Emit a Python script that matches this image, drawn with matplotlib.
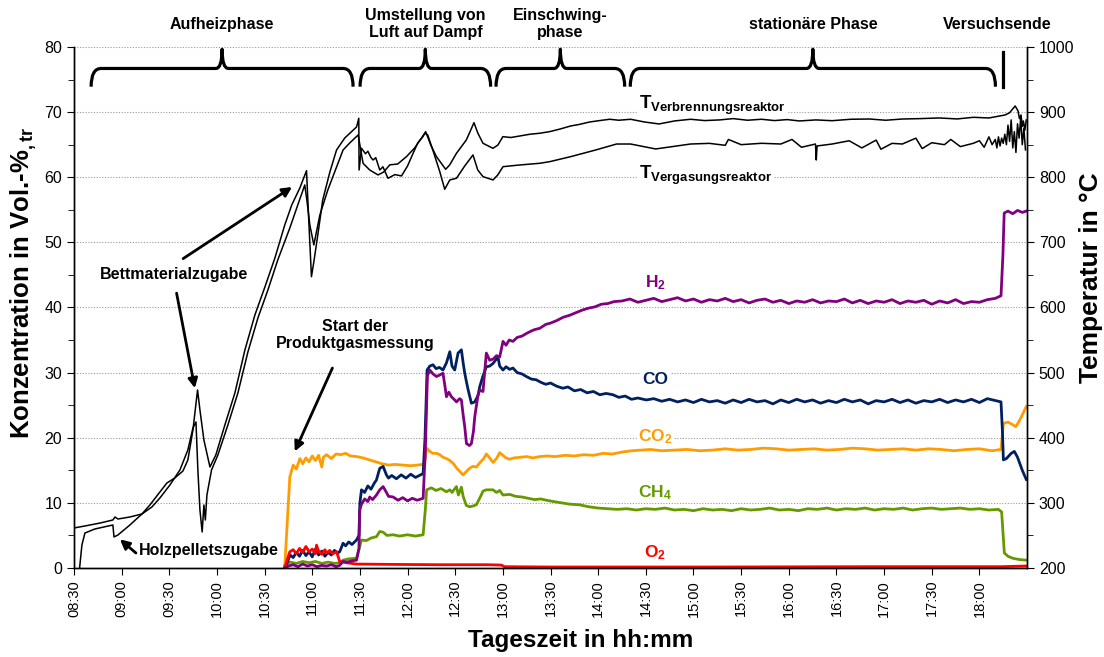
import matplotlib
matplotlib.use("Agg")
import matplotlib.pyplot as plt
from matplotlib.path import Path
from matplotlib.patches import PathPatch
from matplotlib.ticker import MultipleLocator, FuncFormatter

plt.rcParams['font.family'] = ['Liberation Sans', 'DejaVu Sans']
plt.rcParams['mathtext.fontset'] = 'custom'
plt.rcParams['mathtext.rm'] = 'Liberation Sans'
plt.rcParams['mathtext.bf'] = 'Liberation Sans:bold'
plt.rcParams['mathtext.it'] = 'Liberation Sans:italic'

# Zeitachse: Minuten nach 08:30
START = 8 * 60 + 30

# Temperaturen (rechte Achse, °C)
t_verbr = [0, 6.9, 16.4, 24.5, 25.8, 27.7, 35.2, 42.8, 47.8, 54.1, 58.5, 63.5, 68.6, 71.7, 74.9, 77.8,
           79.3, 81.8, 85.6, 89.3, 95.0, 101.3, 107.6, 113.9, 120.2, 126.5, 132.7, 137.1, 142.2, 146.4,
           147.8, 149.5, 151.0, 153.5, 156.6, 161.1, 165.3, 170.5, 177.9, 179.3, 179.5, 181.0, 183.5,
           185.0, 187.0, 188.3, 190.0, 192.5, 194.5, 197.7, 202, 206.2, 210, 213.5, 216.4, 219.7, 221.4,
           224.6, 228.2, 234, 236.5, 240.8, 247, 249.8, 251.8, 254.2, 257.5, 263.8, 266.9, 270, 275,
           280.6, 287, 293.2, 299.5, 306, 312.7, 318, 324.6, 331, 337.2, 343, 350.4, 359.2, 368.3, 373,
           378, 388.2, 397, 406.4, 415, 424, 432.8, 441, 449, 456.7, 467, 477.3, 489, 500.8, 511, 521.5,
           533, 544.8, 556, 566.2, 576, 586.2, 589, 592.5, 594.3, 595.2, 596.2, 597.0, 597.7, 598.6, 599.5]
T_verbr = [261.4, 264.5, 269, 273.7, 278.3, 275.2, 278.3, 282.9, 296.7, 316.7, 330.5, 338.2, 348.9, 365.8,
           411.9, 473.3, 442.6, 396.5, 355.1, 373.5, 419.6, 468.7, 534.7, 588.5, 631.5, 676, 726.7, 757.4,
           783.5, 810, 734.4, 647.3, 669.9, 711.3, 765, 808, 841.8, 860.3, 877.2, 890.5, 811.1, 844.5, 836,
           840, 830, 826.5, 830, 811.1, 816, 798.4, 804, 802, 817.3, 836.8, 852.6, 862.3, 870, 849.5, 831.6,
           812.2, 818.8, 836.8, 857.2, 872.5, 883.8, 868, 852.1, 844.4, 849.5, 862.3, 861,
           863.3, 866, 867.5, 870, 874, 878.7, 881, 884.8, 887, 889, 887.5, 889, 884.8, 881.8, 884,
           886.4, 889, 887, 888, 890, 887.5, 889, 887, 888.5, 886.4, 888, 886.8, 889, 889.4, 887.5, 889.4,
           890, 891, 889.5, 892, 891, 895.6, 899, 909.4, 902, 890, 895.6, 878, 886.4, 872, 888]

t_verg = [3.1, 5.0, 6.9, 13.2, 24.5, 25.2, 27.7, 35.2, 42.8, 49.1, 54.1, 60.4, 66.7, 71.7, 74.9, 76.8,
          78.0, 79.3, 80.7, 81.8, 82.7, 83.7, 86.6, 90.6, 96.9, 103.2, 109.5, 115.8, 122.1, 128.3, 135.9,
          140.9, 145.3, 146.6, 148.5, 151.0, 154.8, 159.8, 169.4, 173.6, 178.9, 182.0, 186.2, 191.4, 195,
          198.8, 203.8, 209.3, 214.5, 220.8, 222.7, 225.9, 230.3, 233.4, 236.6, 240.8, 246, 251.2, 254.2,
          257.5, 263.8, 266.8, 270.1, 280.6, 293.2, 299.5, 312.7, 328.4, 341.6, 350.4, 366.2, 388.2, 400,
          410, 412, 420, 432.8, 445, 452, 458, 466.8, 467.3, 467.8, 477.3, 488, 496, 505, 508, 515, 521.5,
          530, 534, 540, 548, 552, 558, 566.2, 570, 573, 576, 578, 580, 581, 582, 583, 584, 585, 586, 587,
          588, 589, 590, 591, 592, 593, 594, 595, 596, 597, 598, 599]
T_verg = [189, 235.3, 253.7, 259.9, 266, 247.6, 250.7, 266, 282.9, 293.7, 307.5, 327.4, 350.5, 381.2, 415,
          424.2, 350.5, 289.1, 255.3, 296.7, 273.7, 312.1, 350.5, 373.5, 419.6, 468.7, 531.7, 583.9, 626.9,
          672.9, 722.1, 757.4, 788.1, 765, 726.7, 696, 742, 780.4, 841.8, 852.6, 864.9, 821.4, 811.1, 803.5,
          808, 819, 820.3, 831.6, 845, 867.5, 864.9, 841.8, 808.5, 781.5, 795.8, 798.4, 817.3, 834.2, 811.1,
          800.9, 795.8, 803.5, 816.2, 818.8, 821.4, 823.9, 831.6, 841.8, 851, 851, 843.4, 851, 852,
          849, 858, 850, 852.1, 851, 858, 846, 851, 826.5, 848, 851, 856, 845, 857, 843, 852, 851,
          860, 844, 853, 850, 858, 847, 852.1, 856, 846, 862, 850, 858, 845, 862, 848, 860, 852, 866, 850,
          880, 855, 888, 845, 870, 838, 882, 860, 891, 850, 875, 842]

# Gaskonzentrationen (linke Achse, Vol.-%tr)
co2_t = [132.7, 134.5, 135.9, 138.0, 140, 142.2, 144, 146, 148, 150, 152, 154, 156, 157, 159, 162, 165,
         168, 171, 174, 178, 182, 186, 190, 194, 198, 202, 207, 212, 216, 219.8, 221, 222, 224, 226, 228.2,
         230.3, 232.3, 234.5, 236.6, 239, 241, 243, 244.9, 247, 249, 251, 253.3, 256, 258, 259.6, 261.7,
         263.8, 266, 268, 270, 272, 274.3, 277, 281, 285, 289, 293, 298, 303, 309, 315, 321, 327, 333, 339,
         345, 351, 357, 363, 370, 378, 386, 394, 402, 410, 418, 426, 434, 442, 450, 458, 466, 474, 482,
         490, 498, 506, 514, 522, 530, 538, 546, 554, 562, 570, 578, 583.6, 584.5, 585.1, 588, 591, 593,
         596, 599.5]
co2 = [0.2, 8, 14.0, 15.8, 15.2, 16.8, 16.0, 16.9, 16.3, 17.2, 16.5, 17.3, 15.5, 17.0, 17.4, 16.8, 17.5,
       17.4, 17.6, 17.2, 17.1, 16.9, 16.6, 16.3, 16.0, 15.8, 15.9, 15.8, 15.7, 15.8, 15.9, 16.5, 18.4, 17.9,
       17.6, 17.6, 17.4, 17.0, 16.8, 16.5, 16.0, 15.3, 14.8, 14.3, 14.8, 15.3, 15.6, 15.5, 16.3, 16.8, 17.5,
       16.9, 16.2, 16.8, 17.7, 17.3, 16.9, 16.7, 16.9, 17.0, 17.1, 16.9, 17.1, 17.2, 17.1, 17.3, 17.2, 17.4,
       17.3, 17.6, 17.5, 17.8, 18.0, 18.1, 18.2, 18.0, 18.1, 18.2, 18.0, 18.1, 18.3, 18.1, 18.2, 18.4, 18.3,
       18.1, 18.2, 18.3, 18.1, 18.2, 18.4, 18.3, 18.1, 18.2, 18.3, 18.1, 18.3, 18.2, 18.0, 18.2, 18.3, 18.0,
       18.2, 20.5, 22.2, 22.4, 22.0, 21.7, 23.0, 24.8]

co_t = [132.7, 134.5, 136, 138, 140, 142, 144, 146, 148, 150, 152, 154, 156, 158, 160, 162, 164, 166,
        167.3, 169.4, 171, 173, 175, 177.9, 179.4, 180, 181, 183, 185, 187, 189, 190.4, 192.5, 194.6, 196.7,
        198, 200, 203, 206, 209, 212, 215, 219.8, 221, 222.3, 224, 226, 228, 230, 232.3, 234.5, 236.6, 238,
        239.7, 241.8, 243.9, 245, 246, 248, 250.2, 252.3, 254.4, 255.4, 257.5, 259.6, 261.7, 263.8, 266.9,
        268, 270.1, 272, 274.3, 276.4, 279, 282, 284.8, 288, 291, 294, 297, 300, 304, 307.8, 311, 315, 319,
        323, 327, 331, 335, 339.3, 343, 347, 351, 355, 360.3, 365, 370, 375, 380, 385, 390, 395, 400, 405,
        410, 415, 420, 425, 430, 435, 440, 445, 450, 455, 460, 465, 470, 475, 480, 485, 490, 495, 500, 505,
        510, 515, 520, 525, 530, 535, 540, 545, 550, 555, 560, 565, 570, 575, 580, 583.6, 584.5, 585.1, 587,
        590, 592, 594, 597, 599.5]
co = [0, 1.0, 2.0, 1.6, 2.4, 1.8, 2.7, 1.9, 2.5, 1.7, 2.9, 2.0, 2.6, 1.8, 2.4, 2.0, 2.7, 2.3, 2.5, 3.8,
      3.4, 4.0, 3.6, 4.3, 5, 10, 12.0, 11.6, 12.6, 12.1, 13.0, 13.5, 15.3, 15.6, 14.3, 13.8, 14.2, 13.7, 14.3,
      13.8, 14.4, 13.9, 14.5, 20, 30.4, 31.0, 31.2, 30.6, 30.8, 30.4, 31.5, 33.2, 31.0, 30.4, 33.0, 33.5,
      31.5, 29.9, 27.5, 25.3, 25.5, 26.5, 27.8, 29.5, 30.9, 31.0, 31.4, 32.4, 31.0, 30.4, 30.9, 30.5, 30.7,
      30.0, 29.8, 29.4, 29.0, 28.9, 28.5, 28.2, 28.4, 27.9, 27.6, 27.8, 27.2, 27.4, 26.9, 27.1, 26.6, 26.8,
      26.6, 26.2, 26.4, 25.9, 26.1, 25.8, 26.0, 25.6, 25.9, 25.5, 25.8, 25.4, 25.9, 25.5, 25.7, 25.3, 25.8,
      25.4, 25.9, 25.5, 25.7, 25.2, 25.8, 25.4, 25.9, 25.5, 25.8, 25.3, 25.7, 25.4, 25.9, 25.5, 25.8, 25.2,
      25.7, 25.5, 25.9, 25.4, 25.8, 25.3, 25.7, 25.5, 25.9, 25.4, 25.8, 25.5, 25.9, 25.4, 26.0, 25.7, 25.5,
      21, 16.6, 16.8, 17.6, 17.9, 17.0, 15.0, 13.6]

h2_t = [132.7, 135, 138, 141, 144, 147, 150, 153, 156, 159, 162, 165, 167.3, 169.4, 172, 175, 177.9,
        179.4, 179.9, 181, 183, 185, 186.2, 188, 190.4, 192.5, 194.6, 196.7, 198, 200.9, 204, 207, 210, 213,
        216, 219.8, 221.2, 222.5, 224, 226, 228.2, 230, 232.3, 233.5, 234.5, 236, 237.6, 239.7, 240.8, 242.8,
        243.9, 245, 246, 247.1, 249, 250.2, 251.5, 252.3, 254.4, 255.4, 257.5, 259.6, 261.7, 264, 266, 268,
        270.1, 272, 274, 276.4, 279, 282, 284.8, 288, 290, 293.2, 297, 300, 304, 308, 312, 316, 320, 324,
        328, 332, 336, 340, 345, 350, 355, 360, 365, 370, 375, 380, 385, 390, 395, 400, 405, 410, 415, 420,
        425, 430, 435, 440, 445, 450, 455, 460, 465, 470, 475, 480, 485, 490, 495, 500, 505, 510, 515, 520,
        525, 530, 535, 540, 545, 550, 555, 560, 565, 570, 575, 580, 583.6, 584.8, 585.6, 588, 591, 594, 597,
        599.5]
h2 = [0, 0.3, 0.5, 0.2, 0.6, 0.3, 0.5, 0.2, 0.4, 0.3, 0.5, 0.2, 0.4, 1.0, 0.9, 1.1, 1.2, 3, 8.9, 9.8, 10.6,
      10.2, 10.9, 10.5, 11.2, 12.0, 12.5, 11.6, 11.0, 10.9, 10.4, 10.8, 10.3, 10.7, 10.4, 10.7, 18, 29.5,
      30.4, 29.8, 29.4, 29.6, 29.9, 28.0, 26.3, 27.0, 26.3, 25.8, 25.5, 26.0, 25.8, 23.5, 21.7, 19.1, 18.8,
      19.1, 21, 23.2, 26.6, 27.3, 27.1, 33.0, 31.9, 32.1, 32.6, 32.4, 34.8, 34.2, 35.0, 34.8, 35.4, 35.6,
      36.0, 36.4, 36.6, 36.8, 37.4, 37.6, 38.0, 38.5, 38.8, 39.2, 39.6, 39.9, 40.1, 40.5, 40.6, 40.9, 41.0,
      41.3, 40.8, 41.1, 41.4, 40.9, 41.2, 41.5, 41.0, 41.3, 40.8, 41.2, 41.0, 41.4, 40.9, 41.2, 40.7, 41.1,
      41.3, 40.8, 41.1, 40.6, 41.0, 40.8, 41.2, 40.7, 41.0, 40.9, 41.3, 40.7, 41.1, 40.6, 41.0, 40.8, 41.2,
      40.6, 41.0, 40.8, 41.1, 40.5, 41.0, 40.7, 41.2, 40.6, 40.9, 40.8, 41.2, 41.4, 41.8, 48, 54.5, 54.8,
      54.4, 54.9, 54.6, 54.8]

ch4_t = [132.7, 136, 140, 144, 148, 152, 156, 160, 164, 167.3, 169.4, 173, 177.9, 179.6, 181, 184, 187,
         190.4, 192.5, 194.6, 197, 200.9, 205, 210, 215, 219.8, 221.2, 222, 225, 228, 231, 234.5, 236.6, 238,
         240.8, 242, 243.9, 245, 247, 249.1, 251, 253.3, 256, 257.5, 259.6, 263.8, 266, 268, 270.1, 274.3,
         278, 282, 286, 290, 294, 297.4, 302, 307, 312, 318.3, 324, 330, 336, 342, 348, 354, 360, 366, 372,
         378, 384, 390, 396, 402, 408, 414, 420, 426, 432, 438, 444, 450, 456, 462, 468, 474, 480, 486, 492,
         498, 504, 510, 516, 522, 528, 534, 540, 546, 552, 558, 564, 570, 576, 582, 584, 585.7, 588, 590.9,
         595, 599.5]
ch4 = [0.3, 0.9, 0.7, 1.0, 0.8, 1.0, 0.7, 0.9, 0.7, 0.8, 1.2, 1.4, 1.5, 3, 4.3, 4.2, 4.6, 4.8, 5.6, 5.5,
       5.0, 5.1, 4.9, 5.1, 4.9, 5.1, 9, 12.0, 12.3, 11.9, 12.2, 11.7, 12.0, 11.6, 12.5, 11.2, 12.4, 11.0, 9.6,
       9.4, 9.5, 9.7, 11.0, 11.8, 12.0, 12.0, 11.6, 11.9, 11.2, 11.3, 11.0, 10.9, 10.7, 10.5, 10.6, 10.4,
       10.2, 10.0, 9.8, 9.7, 9.4, 9.2, 9.1, 9.0, 9.1, 8.9, 9.1, 9.0, 9.2, 8.9, 9.0, 8.8, 9.1, 8.9, 9.0, 8.8,
       9.1, 8.9, 9.0, 9.2, 8.9, 9.0, 8.8, 9.1, 9.0, 9.2, 8.9, 9.1, 9.0, 9.2, 8.9, 9.1, 9.0, 9.2, 8.9, 9.1,
       9.2, 9.0, 9.1, 9.2, 9.0, 9.1, 8.9, 9.0, 8.6, 2.3, 1.8, 1.5, 1.3, 1.2]

o2_t = [132.7, 134.5, 135.9, 138.0, 140, 142, 144, 146, 148, 150, 152, 152.7, 154, 156, 158, 159, 161, 163,
        165.3, 167.3, 171.6, 178, 200, 230, 260, 269, 271, 300, 400, 500, 583, 599.5]
o2 = [0, 1.5, 2.5, 2.8, 2.2, 3.0, 2.4, 3.3, 2.5, 2.9, 2.2, 3.5, 2.6, 2.1, 2.8, 2.3, 2.7, 2.2, 2.5, 1.0,
      0.8, 0.6, 0.55, 0.5, 0.5, 0.45, 0.2, 0.15, 0.15, 0.2, 0.2, 0.3]

# Versuchsphasen (Minuten nach 08:30)
phase_start = [10.8, 180.1, 265.7, 350.2]
phase_end = [175.7, 262.3, 346.7, 580.1]
phase_names = ['Aufheizphase', 'Umstellung von\nLuft auf Dampf', 'Einschwing-\nphase', 'stationäre Phase']
end_time = 585.1

C_CO2 = '#FF9C00'
C_CO = '#002060'
C_H2 = '#800080'
C_CH4 = '#669900'
C_O2 = '#FF0000'

fig = plt.figure(figsize=(11.04, 6.57), dpi=100)
ax = fig.add_axes([0.067, 0.1355, 0.8633, 0.793])
ax2 = ax.twinx()

ax.set_xlim(0, 600)
ax.set_ylim(0, 80)
ax2.set_ylim(200, 1000)

ax.plot(co2_t, co2, color=C_CO2, lw=2.0)
ax.plot(ch4_t, ch4, color=C_CH4, lw=2.0)
ax.plot(co_t, co, color=C_CO, lw=2.0)
ax.plot(o2_t, o2, color=C_O2, lw=2.0)
ax.plot(h2_t, h2, color=C_H2, lw=2.0)

ax2.plot(t_verbr, T_verbr, color='black', lw=1.1)
ax2.plot(t_verg, T_verg, color='black', lw=1.1)

# Gitter und Achsen
ax.yaxis.grid(True, color='#999999', ls=(0, (1, 1.5)), lw=0.8)
ax.set_axisbelow(True)
for a in (ax, ax2):
    a.spines['top'].set_visible(False)
    for s in ('left', 'right', 'bottom'):
        a.spines[s].set_linewidth(1.0)

ax.set_xticks(range(0, 571, 30))
ax.xaxis.set_major_formatter(FuncFormatter(
    lambda m, p: '%02d:%02d' % ((START + int(m)) // 60, (START + int(m)) % 60)))
ax.tick_params(axis='x', rotation=90, labelsize=10.5, direction='out', length=5)
ax.yaxis.set_major_locator(MultipleLocator(10))
ax.yaxis.set_minor_locator(MultipleLocator(5))
ax.tick_params(axis='y', which='both', labelsize=11.5, direction='out')
ax.tick_params(axis='y', which='major', length=5)
ax.tick_params(axis='y', which='minor', length=4)
ax2.yaxis.set_major_locator(MultipleLocator(100))
ax2.yaxis.set_minor_locator(MultipleLocator(50))
ax2.tick_params(axis='y', which='both', labelsize=11.5, direction='out')
ax2.tick_params(axis='y', which='major', length=5)
ax2.tick_params(axis='y', which='minor', length=4)

ax.set_xlabel('Tageszeit in hh:mm', fontsize=17.5, fontweight='bold')
ax.xaxis.set_label_coords(0.532, -0.118)
ax.set_ylabel(r'Konzentration in Vol.-%$_{\mathbf{,tr}}$', fontsize=18.5, fontweight='bold')
ax.yaxis.set_label_coords(-0.037, 0.547)
ax2.set_ylabel('Temperatur in °C', fontsize=19, fontweight='bold')
ax2.yaxis.set_label_coords(1.055, 0.557)


def brace(x0, x1, y_tip=73.9, y_bar=76.7, y_peak=79.65, dx=6.3, dc=4.0):
    xc = (x0 + x1) / 2
    verts = [(x0, y_tip), (x0, y_bar), (x0 + dx, y_bar), (xc - dc, y_bar),
             (xc, y_bar), (xc, y_peak), (xc, y_bar), (xc + dc, y_bar),
             (x1 - dx, y_bar), (x1, y_bar), (x1, y_tip)]
    codes = [Path.MOVETO, Path.CURVE3, Path.CURVE3, Path.LINETO,
             Path.CURVE3, Path.CURVE3, Path.CURVE3, Path.CURVE3,
             Path.LINETO, Path.CURVE3, Path.CURVE3]
    ax.add_patch(PathPatch(Path(verts, codes), fill=False, lw=2.3, color='black',
                           capstyle='butt', joinstyle='round'))
    return xc


for x0, x1, name in zip(phase_start, phase_end, phase_names):
    xc = brace(x0, x1)
    ax.text(xc, 83.5, name, ha='center', va='center', fontsize=11.5, fontweight='bold',
            linespacing=1.15, clip_on=False)

ax.plot([end_time, end_time], [73.9, 79.2], color='black', lw=2.3)
ax.text(end_time - 4, 83.5, 'Versuchsende', ha='center', va='center', fontsize=11.5,
        fontweight='bold', clip_on=False)

# Kurvenbeschriftungen
box = dict(facecolor='white', edgecolor='none', pad=1.0)
ax2.text(356, 910, r'$\mathbf{T}_{\mathbf{Verbrennungsreaktor}}$', fontsize=13.5, va='center',
         ha='left', bbox=box, zorder=1)
ax2.text(356, 803, r'$\mathbf{T}_{\mathbf{Vergasungsreaktor}}$', fontsize=13.5, va='center',
         ha='left', bbox=box, zorder=1)
gas_labels = [(r'H$_\mathbf{2}$', 43.8, C_H2), ('CO', 28.9, C_CO), (r'CO$_\mathbf{2}$', 20.2, C_CO2),
              (r'CH$_\mathbf{4}$', 11.6, C_CH4), (r'O$_\mathbf{2}$', 2.3, C_O2)]
for txt, yv, col in gas_labels:
    ax.text(366, yv, txt, color=col, fontsize=12.5, fontweight='bold', ha='center', va='center',
            bbox=box, zorder=1.5)

# Ereignisse mit Pfeilen
arrow = dict(arrowstyle='-|>', color='black', lw=2.0, mutation_scale=14, shrinkA=0, shrinkB=0)
ax.text(63, 45.0, 'Bettmaterialzugabe', ha='center', va='center', fontsize=11.5, fontweight='bold')
ax.annotate('', xy=(137.3, 58.5), xytext=(68.7, 47.5), arrowprops=arrow)
ax.annotate('', xy=(76.1, 27.6), xytext=(64.6, 42.2), arrowprops=arrow)
ax.text(41, 2.7, 'Holzpelletszugabe', ha='left', va='center', fontsize=11.5, fontweight='bold')
ax.annotate('', xy=(28.9, 4.4), xytext=(39, 2.3), arrowprops=arrow)
ax.text(177, 35.8, 'Start der\nProduktgasmessung', ha='center', va='center', fontsize=11.5,
        fontweight='bold', linespacing=1.15)
ax.annotate('', xy=(139, 17.9), xytext=(162.7, 30.7), arrowprops=arrow)

fig.savefig('out.png', dpi=100)
